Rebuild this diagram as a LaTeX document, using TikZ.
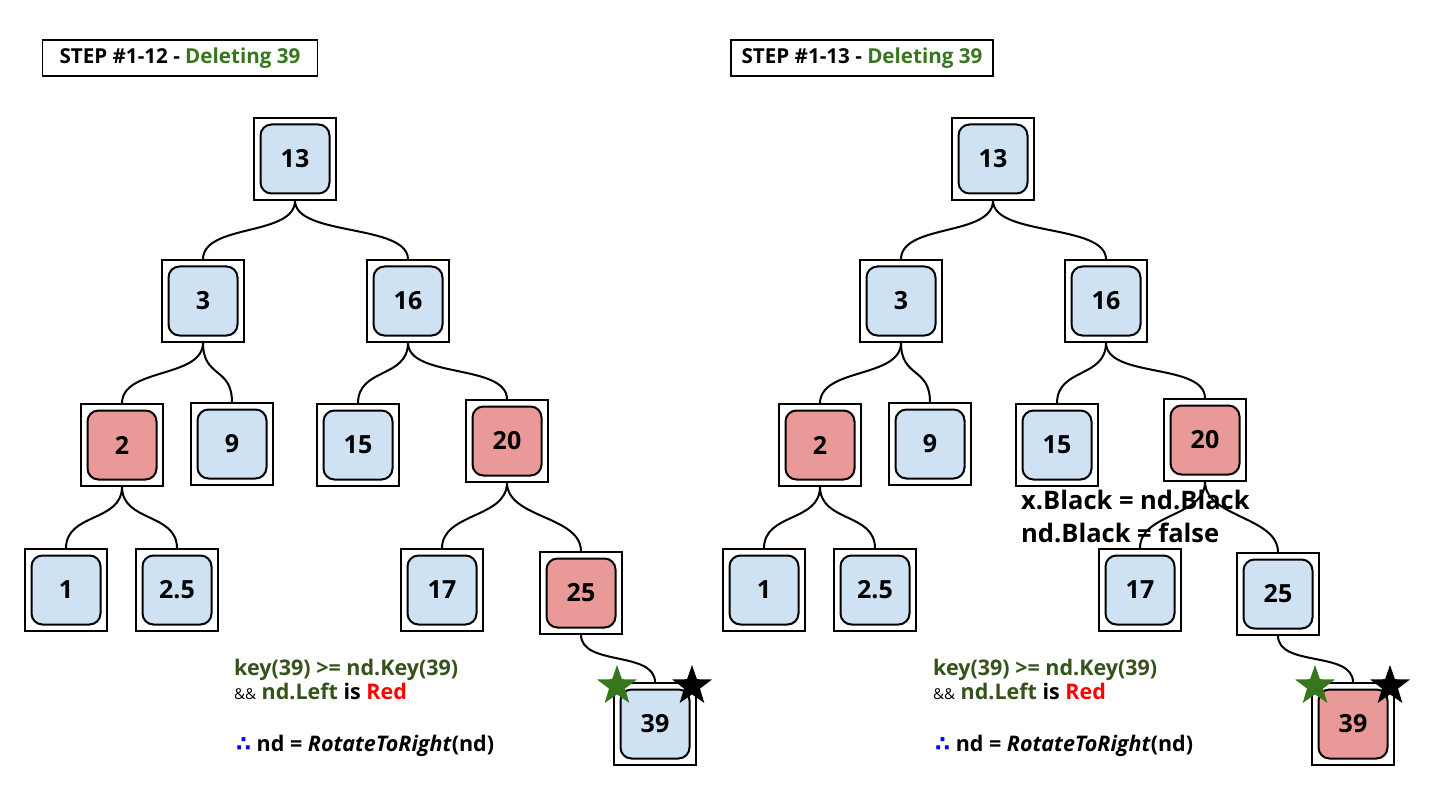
\documentclass[tikz,border=0pt]{standalone}
\usepackage{fontspec}
\setmainfont{Open Sans}
\newfontfamily\symfont{DejaVu Sans}
\usetikzlibrary{shapes.geometric}
\definecolor{keyblue}{HTML}{CFE2F3}
\definecolor{keyred}{HTML}{EA9999}
\definecolor{stepgreen}{HTML}{38761D}
\definecolor{notegreen}{HTML}{35521A}

\begin{document}
\begin{tikzpicture}[x=1pt, y=-1pt,
    slot/.style={rectangle, draw, line width=1.2pt, fill=white, minimum size=82pt, inner sep=0pt,
        font=\bfseries\fontsize{25}{30}\selectfont,
        path picture={\draw[line width=2pt, rounded corners=11pt, fill=#1]
            ([shift={(6.5pt,6.5pt)}]path picture bounding box.south west) rectangle
            ([shift={(-6.5pt,-6.5pt)}]path picture bounding box.north east);}},
    keyb/.style={slot=keyblue},
    keyr/.style={slot=keyred},
    steplabel/.style={rectangle, draw, line width=1.5pt, minimum width=#1, minimum height=36pt,
        inner sep=0pt, font=\bfseries\fontsize{20.6}{24}\selectfont},
    link/.style={line width=2pt},
    note/.style={anchor=base west, inner sep=0pt, font=\bfseries\fontsize{21.5}{26}\selectfont},
    badge/.style={star, star points=5, star point ratio=2.5, minimum size=42pt, inner sep=0pt, fill=#1}
]
\useasboundingbox (0,0) rectangle (1443,802);

% Titles
\node[steplabel=275pt] (ltitle) at (180,58) {STEP \#1-12 - \textcolor{stepgreen}{Deleting 39}};
\node[steplabel=262pt] (rtitle) at (862,58) {STEP \#1-13 - \textcolor{stepgreen}{Deleting 39}};

% Left tree
\node[keyb] (l13) at (295,159) {13};
\node[keyb] (l3) at (203,301) {3};
\node[keyb] (l16) at (408,301) {16};
\node[keyr] (l2) at (122,445) {2};
\node[keyb] (l9) at (232,444) {9};
\node[keyb] (l15) at (358,445) {15};
\node[keyr] (l20) at (507,441) {20};
\node[keyb] (l1) at (66,590) {1};
\node[keyb] (l2h) at (177,590) {2.5};
\node[keyb] (l17) at (442,590) {17};
\node[keyr] (l25) at (581,593) {25};
\node[keyb] (l39) at (655,724) {39};

% Right tree
\node[keyb] (r13) at (993,159) {13};
\node[keyb] (r3) at (901,301) {3};
\node[keyb] (r16) at (1106,301) {16};
\node[keyr] (r2) at (820,445) {2};
\node[keyb] (r9) at (930,444) {9};
\node[keyb] (r15) at (1057,445) {15};
\node[keyr] (r20) at (1205,440) {20};
\node[keyb] (r1) at (764,590) {1};
\node[keyb] (r2h) at (875,590) {2.5};
\node[keyb] (r17) at (1140,590) {17};
\node[keyb] (r25) at (1278,594) {25};
\node[keyr] (r39) at (1353,724) {39};

% Links
\draw[link] (l13.south) .. controls +(0pt,-36pt) and +(0pt,36pt) .. (l3.north);
\draw[link] (l13.south) .. controls +(0pt,-36pt) and +(0pt,36pt) .. (l16.north);
\draw[link] (l3.south) .. controls +(0pt,-36pt) and +(0pt,36pt) .. (l2.north);
\draw[link] (l3.south) .. controls +(0pt,-36pt) and +(0pt,36pt) .. (l9.north);
\draw[link] (l16.south) .. controls +(0pt,-36pt) and +(0pt,36pt) .. (l15.north);
\draw[link] (l16.south) .. controls +(0pt,-36pt) and +(0pt,36pt) .. (l20.north);
\draw[link] (l2.south) .. controls +(0pt,-36pt) and +(0pt,36pt) .. (l1.north);
\draw[link] (l2.south) .. controls +(0pt,-36pt) and +(0pt,36pt) .. (l2h.north);
\draw[link] (l20.south) .. controls +(0pt,-36pt) and +(0pt,36pt) .. (l17.north);
\draw[link] (l20.south) .. controls +(0pt,-36pt) and +(0pt,36pt) .. (l25.north);
\draw[link] (l25.south) .. controls +(0pt,-32pt) and +(0pt,32pt) .. (l39.north);

\draw[link] (r13.south) .. controls +(0pt,-36pt) and +(0pt,36pt) .. (r3.north);
\draw[link] (r13.south) .. controls +(0pt,-36pt) and +(0pt,36pt) .. (r16.north);
\draw[link] (r3.south) .. controls +(0pt,-36pt) and +(0pt,36pt) .. (r2.north);
\draw[link] (r3.south) .. controls +(0pt,-36pt) and +(0pt,36pt) .. (r9.north);
\draw[link] (r16.south) .. controls +(0pt,-36pt) and +(0pt,36pt) .. (r15.north);
\draw[link] (r16.south) .. controls +(0pt,-36pt) and +(0pt,36pt) .. (r20.north);
\draw[link] (r2.south) .. controls +(0pt,-36pt) and +(0pt,36pt) .. (r1.north);
\draw[link] (r2.south) .. controls +(0pt,-36pt) and +(0pt,36pt) .. (r2h.north);
\draw[link] (r20.south) .. controls +(0pt,-36pt) and +(0pt,36pt) .. (r17.north);
\draw[link] (r20.south) .. controls +(0pt,-36pt) and +(0pt,36pt) .. (r25.north);
\draw[link] (r25.south) .. controls +(0pt,-32pt) and +(0pt,32pt) .. (r39.north);

% Stars
\node[badge=stepgreen] (lgstar) at (617,686) {};
\node[badge=black] (lkstar) at (692,686) {};
\node[badge=stepgreen] (rgstar) at (1315,686) {};
\node[badge=black] (rkstar) at (1390,686) {};

% Notes
\node[note, text=notegreen] (lkey) at (234,675) {key(39) >= nd.Key(39)};
\node[note] (lleft) at (234,699) {{\mdseries\fontsize{15}{18}\selectfont\&\&} \textcolor{notegreen}{nd.Left} is \textcolor{red}{Red}};
\node[note] (lrot) at (236,751) {{\symfont\textcolor{blue}{∴}} nd = \textit{RotateToRight}(nd)};

\node[note, text=notegreen] (rkey) at (933,675) {key(39) >= nd.Key(39)};
\node[note] (rleft) at (933,699) {{\mdseries\fontsize{15}{18}\selectfont\&\&} \textcolor{notegreen}{nd.Left} is \textcolor{red}{Red}};
\node[note] (rrot) at (935,751) {{\symfont\textcolor{blue}{∴}} nd = \textit{RotateToRight}(nd)};

\node[note, font=\bfseries\fontsize{25.5}{30}\selectfont] (rcopy) at (1021,509) {x.Black = nd.Black};
\node[note, font=\bfseries\fontsize{25.5}{30}\selectfont] (rclear) at (1021,542) {nd.Black = false};

\end{tikzpicture}
\end{document}
